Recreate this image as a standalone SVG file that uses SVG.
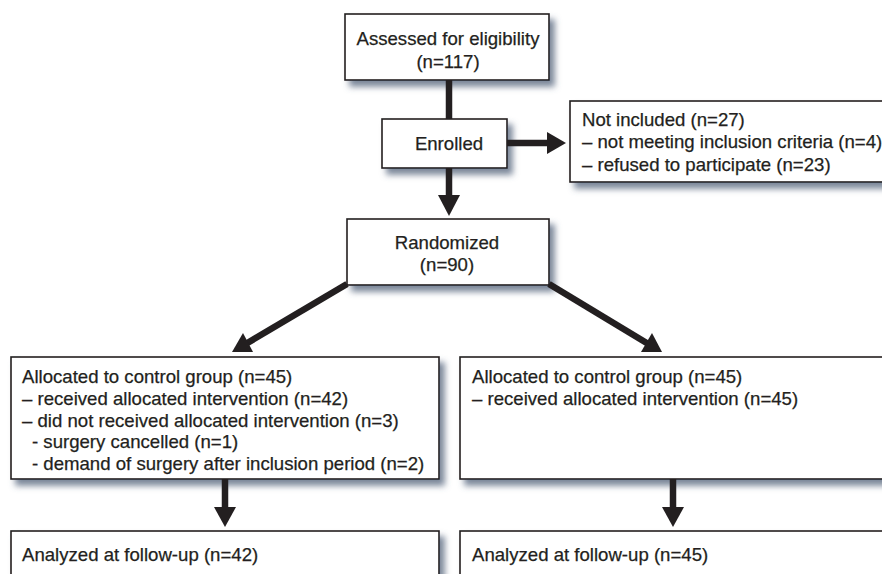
<svg xmlns="http://www.w3.org/2000/svg" width="882" height="574" viewBox="0 0 882 574">
<defs>
<filter id="sh" x="-10%" y="-20%" width="130%" height="150%">
<feDropShadow dx="5" dy="6" stdDeviation="3" flood-color="#4f5f78" flood-opacity="0.75"/>
</filter>
<style>
.box{fill:#fff;stroke:#231f20;stroke-width:1.6;filter:url(#sh)}
text{font-family:"Liberation Sans",Arial,Helvetica,sans-serif;font-size:18.6px;fill:#231f20;stroke:#231f20;stroke-width:0.25}
.c{text-anchor:middle}
.ln{stroke:#231f20;stroke-width:6.5;fill:none}
.hd{fill:#231f20;stroke:none}
</style>
</defs>
<rect width="882" height="574" fill="#fff"/>
<g id="assessed">
<rect class="box" x="345" y="14" width="204" height="66"/>
<text class="c" x="448" y="45">Assessed for eligibility</text>
<text class="c" x="448" y="68">(n=117)</text>
</g>
<g id="enrolled">
<rect class="box" x="382" y="119" width="125" height="49"/>
<text class="c" x="449" y="150">Enrolled</text>
</g>
<g id="not-included">
<rect class="box" x="570" y="101" width="330" height="81"/>
<text x="582" y="126">Not included (n=27)</text>
<text x="582" y="148">– not meeting inclusion criteria (n=4)</text>
<text x="582" y="171">– refused to participate (n=23)</text>
</g>
<g id="randomized">
<rect class="box" x="347" y="219" width="202" height="66"/>
<text class="c" x="447" y="249">Randomized</text>
<text class="c" x="447" y="271">(n=90)</text>
</g>
<g id="control-left">
<rect class="box" x="11" y="357" width="428" height="122"/>
<text x="22" y="383">Allocated to control group (n=45)</text>
<text x="22" y="405">– received allocated intervention (n=42)</text>
<text x="22" y="427">– did not received allocated intervention (n=3)</text>
<text x="32" y="448">- surgery cancelled (n=1)</text>
<text x="32" y="470">- demand of surgery after inclusion period (n=2)</text>
</g>
<g id="control-right">
<rect class="box" x="460" y="357" width="440" height="122"/>
<text x="472" y="383">Allocated to control group (n=45)</text>
<text x="472" y="405">– received allocated intervention (n=45)</text>
</g>
<g id="analyzed-left">
<rect class="box" x="11" y="531" width="428" height="60"/>
<text x="22" y="561">Analyzed at follow-up (n=42)</text>
</g>
<g id="analyzed-right">
<rect class="box" x="460" y="531" width="440" height="60"/>
<text x="472" y="561">Analyzed at follow-up (n=45)</text>
</g>
<g id="connectors">
<line class="ln" x1="449" y1="80" x2="449" y2="119"/>
<line class="ln" x1="507" y1="143" x2="549" y2="143"/>
<polygon class="hd" points="547,132 566,143 547,154"/>
<line class="ln" x1="449" y1="168" x2="449" y2="197"/>
<polygon class="hd" points="438,195 460,195 449,216"/>
<line class="ln" x1="347" y1="284" x2="244" y2="345"/>
<polygon class="hd" points="232,352 243,333 253,352"/>
<line class="ln" x1="549" y1="284" x2="650" y2="345"/>
<polygon class="hd" points="662,352 652,333 641,352"/>
<line class="ln" x1="225" y1="479" x2="225" y2="509"/>
<polygon class="hd" points="214,507 236,507 225,527"/>
<line class="ln" x1="673" y1="479" x2="673" y2="509"/>
<polygon class="hd" points="662,507 684,507 673,527"/>
</g>
</svg>
